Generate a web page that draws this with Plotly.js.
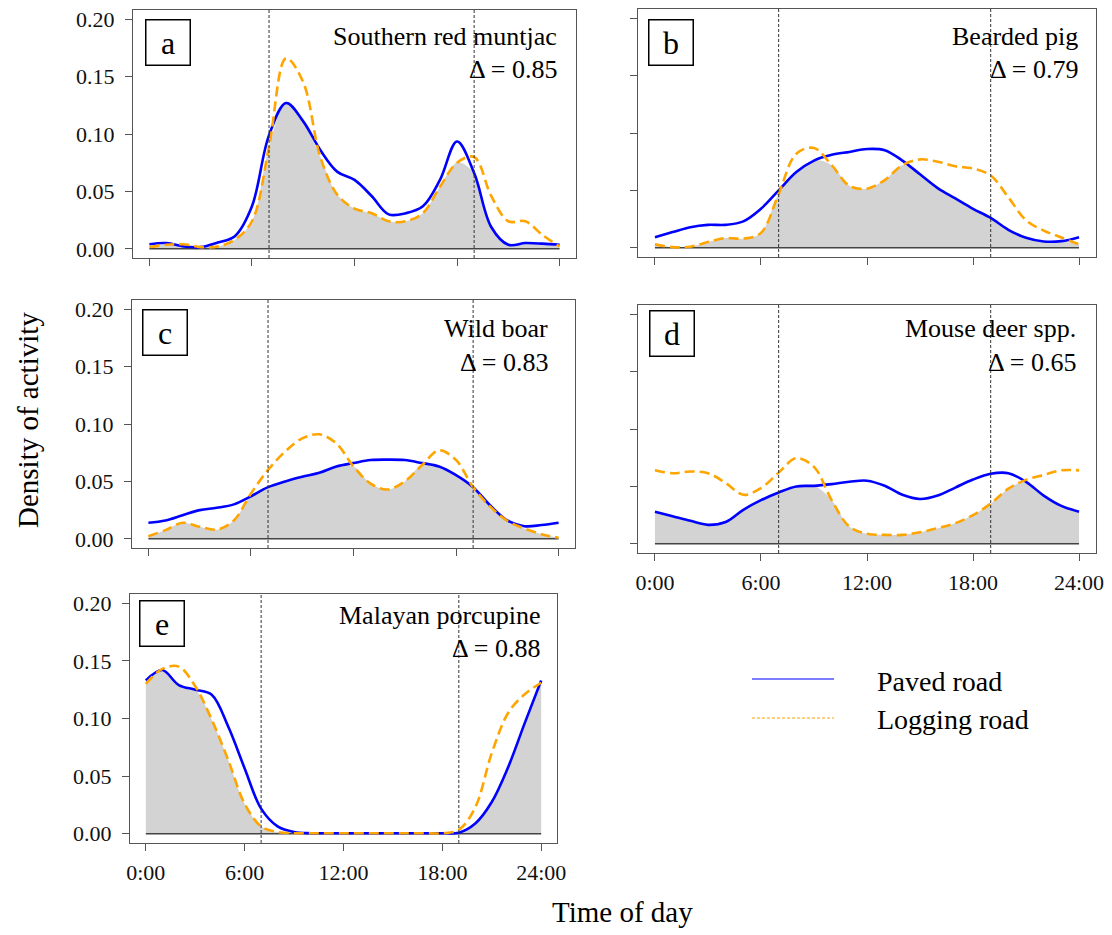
<!DOCTYPE html>
<html>
<head>
<meta charset="utf-8">
<script src="https://cdn.plot.ly/plotly-3.0.1.min.js"></script>
<style>html,body{margin:0;padding:0;background:#fff;}#chart{width:1112px;height:935px;}</style>
</head>
<body>
<div id="chart"></div>
<script>
// ---------- data ----------
const hours = [0,1,2,3,4,5,6,7,8,9,10,11,12,13,14,15,16,17,18,19,20,21,22,23,24];
const tickHours = [0,6,12,18,24];
const tickLabels = ['0:00','6:00','12:00','18:00','24:00'];
const yTicks = [0,0.05,0.10,0.15,0.20];
const dayBounds = [7,19];
const panelLetters = ['a','b','c','d','e'];
const speciesNames = ['Southern red muntjac','Bearded pig','Wild boar','Mouse deer spp.','Malayan porcupine'];
const overlapDelta = ['0.85','0.79','0.83','0.65','0.88'];
const seriesNames = ['Paved road','Logging road'];

const paved_a   = [0.004,0.005,0.002,0.0015,0.0055,0.011,0.037,0.099,0.127,0.111,0.086,0.067,0.060,0.046,0.030,0.031,0.037,0.060,0.0935,0.066,0.019,0.0035,0.005,0.0045,0.0035];
const logging_a = [0.0015,0.0035,0.004,0.0015,0.002,0.008,0.024,0.089,0.166,0.145,0.080,0.047,0.035,0.031,0.024,0.024,0.031,0.054,0.075,0.080,0.046,0.024,0.024,0.012,0.002];

const paved_b   = [0.0093,0.0137,0.018,0.020,0.020,0.023,0.034,0.050,0.066,0.076,0.081,0.0835,0.086,0.085,0.076,0.064,0.052,0.043,0.034,0.026,0.0157,0.0087,0.0055,0.0058,0.0093];
const logging_b = [0.003,0.0006,0.001,0.005,0.0085,0.008,0.013,0.047,0.082,0.087,0.072,0.054,0.0515,0.059,0.072,0.077,0.075,0.071,0.069,0.063,0.044,0.024,0.015,0.009,0.003];

const paved_c   = [0.014,0.016,0.0206,0.025,0.027,0.030,0.037,0.045,0.050,0.054,0.0575,0.063,0.066,0.0686,0.069,0.0686,0.066,0.063,0.0555,0.045,0.029,0.016,0.011,0.012,0.014];
const logging_c = [0.0023,0.0076,0.014,0.0105,0.008,0.016,0.0395,0.060,0.076,0.0875,0.091,0.083,0.063,0.048,0.043,0.050,0.064,0.077,0.0686,0.045,0.028,0.0157,0.009,0.004,0.001];

const paved_d   = [0.028,0.024,0.020,0.0165,0.019,0.0296,0.038,0.0447,0.050,0.0505,0.052,0.054,0.055,0.0505,0.0427,0.039,0.042,0.049,0.056,0.061,0.0615,0.054,0.042,0.033,0.028];
const logging_d = [0.064,0.0615,0.063,0.0615,0.053,0.0427,0.0485,0.062,0.0746,0.067,0.038,0.015,0.0087,0.0078,0.0078,0.010,0.0136,0.018,0.025,0.035,0.048,0.0557,0.060,0.064,0.064];

const paved_e   = [0.133,0.142,0.129,0.125,0.1206,0.093,0.0567,0.0218,0.0064,0.0015,0.0005,0.0005,0.0005,0.0005,0.0005,0.0005,0.0005,0.0005,0.0005,0.001,0.009,0.0276,0.058,0.096,0.133];
const logging_e = [0.130,0.143,0.145,0.128,0.099,0.064,0.026,0.0064,0.0015,0.0005,0.0005,0.0005,0.0005,0.0005,0.0005,0.0005,0.0005,0.0005,0.0005,0.0035,0.023,0.070,0.105,0.121,0.131];

const pavedSeries = [paved_a, paved_b, paved_c, paved_d, paved_e];
const loggingSeries = [logging_a, logging_b, logging_c, logging_d, logging_e];

// ---------- layout geometry (pixels) ----------
const W = 1112, H = 935;
const FONT = '"Liberation Serif","Times New Roman",Times,serif';
const px = v => v / W;
const py = v => 1 - v / H;
const panels = [
  {box:[133,10,576,258],  lab:[168,42],  right:559,  ty:[37,70],   showX:false, showY:true},
  {box:[638,9,1096,257],  lab:[671,42],  right:1080, ty:[37,70],   showX:false, showY:false},
  {box:[132,300,575,548], lab:[165,332], right:550,  ty:[329,362], showX:false, showY:true},
  {box:[638,305,1096,553],lab:[672,333], right:1078, ty:[329,362], showX:true,  showY:false},
  {box:[130,594,557,843], lab:[162,623], right:542,  ty:[615,648], showX:true,  showY:true}
];

const traces = [];
const layout = {
  width: W, height: H,
  margin: {l:0, r:0, t:0, b:0},
  paper_bgcolor: '#fff', plot_bgcolor: '#fff',
  showlegend: false,
  font: {family: FONT, color: '#000'},
  shapes: [], annotations: []
};

panels.forEach((p, i) => {
  const s = i === 0 ? '' : String(i + 1);
  const xa = 'x' + s, ya = 'y' + s;
  const paved = pavedSeries[i], logging = loggingSeries[i];
  const overlap = paved.map((v, k) => Math.min(v, logging[k]));

  traces.push({x: hours, y: overlap, xaxis: xa, yaxis: ya, type: 'scatter', mode: 'lines',
    line: {width: 0, shape: 'spline', smoothing: 1}, fill: 'tozeroy', fillcolor: '#d3d3d3', hoverinfo: 'skip'});
  traces.push({x: [hours[0], hours[hours.length - 1]], y: [0, 0], xaxis: xa, yaxis: ya, type: 'scatter', mode: 'lines',
    line: {color: '#444', width: 1.5}, hoverinfo: 'skip'});
  traces.push({x: hours, y: paved, xaxis: xa, yaxis: ya, type: 'scatter', mode: 'lines', name: seriesNames[0],
    line: {color: '#0000ff', width: 2.6, shape: 'spline', smoothing: 1}});
  traces.push({x: hours, y: logging, xaxis: xa, yaxis: ya, type: 'scatter', mode: 'lines', name: seriesNames[1],
    line: {color: '#ffa500', width: 2.6, dash: '10px,5px', shape: 'spline', smoothing: 1}});

  const [x0, y0, x1, y1] = p.box;
  const axCommon = {
    ticks: 'outside', ticklen: 7, tickwidth: 1, tickcolor: '#555',
    showline: true, mirror: true, linecolor: '#555', linewidth: 1.2,
    showgrid: false, zeroline: false, fixedrange: true,
    tickfont: {family: FONT, size: 22, color: '#111'}
  };
  layout['xaxis' + s] = Object.assign({}, axCommon, {
    domain: [px(x0), px(x1)], anchor: ya, range: [-0.96, 24.96],
    tickmode: 'array', tickvals: tickHours, ticktext: tickLabels, showticklabels: p.showX,
    ticklabelstandoff: 2
  });
  layout['yaxis' + s] = Object.assign({}, axCommon, {
    domain: [py(y1), py(y0)], anchor: xa, range: [-0.008, 0.208],
    tickmode: 'array', tickvals: yTicks, tickformat: '.2f', showticklabels: p.showY,
    ticklabelstandoff: 6
  });

  dayBounds.forEach(h => {
    layout.shapes.push({type: 'line', xref: xa, yref: ya + ' domain', x0: h, x1: h, y0: 0, y1: 1,
      line: {color: '#333', width: 1, dash: '3px,2px'}});
  });

  layout.annotations.push({xref: 'paper', yref: 'paper', x: px(p.lab[0]), y: py(p.lab[1]),
    xanchor: 'center', yanchor: 'middle', text: panelLetters[i], showarrow: false,
    font: {family: FONT, size: 32, color: '#000'}, bordercolor: '#000', borderwidth: 1.5,
    borderpad: 0, width: 43, height: 44, bgcolor: '#fff'});
  layout.annotations.push({xref: 'paper', yref: 'paper', x: px(p.right), y: py(p.ty[0]),
    xanchor: 'right', yanchor: 'middle', text: speciesNames[i], showarrow: false,
    font: {family: FONT, size: 26, color: '#000'}});
  layout.annotations.push({xref: 'paper', yref: 'paper', x: px(p.right), y: py(p.ty[1]),
    xanchor: 'right', yanchor: 'middle', text: '\u0394 = ' + overlapDelta[i], showarrow: false,
    font: {family: FONT, size: 26, color: '#000'}});
});

// axis titles
layout.annotations.push({xref: 'paper', yref: 'paper', x: px(28), y: py(420), textangle: -90,
  xanchor: 'center', yanchor: 'middle', text: 'Density of activity', showarrow: false,
  font: {family: FONT, size: 29, color: '#000'}});
layout.annotations.push({xref: 'paper', yref: 'paper', x: px(622), y: py(912),
  xanchor: 'center', yanchor: 'middle', text: 'Time of day', showarrow: false,
  font: {family: FONT, size: 29, color: '#000'}});

// legend
layout.shapes.push({type: 'line', xref: 'paper', yref: 'paper', x0: px(752), x1: px(834), y0: py(679), y1: py(679),
  line: {color: '#5050ff', width: 1.3}});
layout.shapes.push({type: 'line', xref: 'paper', yref: 'paper', x0: px(752), x1: px(834), y0: py(718), y1: py(718),
  line: {color: '#ffbf5a', width: 1.3, dash: '3px,2px'}});
layout.annotations.push({xref: 'paper', yref: 'paper', x: px(875), y: py(681), xanchor: 'left', yanchor: 'middle',
  text: seriesNames[0], showarrow: false, font: {family: FONT, size: 28, color: '#000'}});
layout.annotations.push({xref: 'paper', yref: 'paper', x: px(875), y: py(719), xanchor: 'left', yanchor: 'middle',
  text: seriesNames[1], showarrow: false, font: {family: FONT, size: 28, color: '#000'}});

Plotly.newPlot('chart', traces, layout, {staticPlot: true, displayModeBar: false});
</script>
</body>
</html>
